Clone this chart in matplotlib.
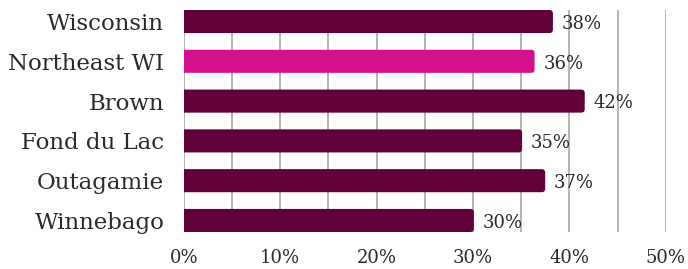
import matplotlib
matplotlib.use("Agg")
import matplotlib.pyplot as plt
from matplotlib.patches import FancyBboxPatch

categories = ["Wisconsin", "Northeast WI", "Brown", "Fond du Lac", "Outagamie", "Winnebago"]
values = [38.3, 36.4, 41.6, 35.1, 37.5, 30.1]
labels = ["38%", "36%", "42%", "35%", "37%", "30%"]
xticks = [0, 10, 20, 30, 40, 50]
xticklabels = ["0%", "10%", "20%", "30%", "40%", "50%"]
highlight = "Northeast WI"

dark = "#62003A"
pink = "#D4108C"
grid = "#A8A8A8"
txt = "#2a2a2a"
font = "DejaVu Serif"

W, H = 688, 269
fig = plt.figure(figsize=(W / 100, H / 100), dpi=100)
left, right = 183.7 / W, 665.7 / W
top, bottom = 1 - 10 / H, 1 - 232 / H
ax = fig.add_axes([left, bottom, right - left, top - bottom])

bh = 0.58
n = len(categories)
ax.set_xlim(0, 50)
ax.set_ylim(n - 1 + bh / 2, -bh / 2)

for x in range(0, 55, 5):
    ax.axvline(x, color=grid, lw=1.2, zorder=0)

ax_w_px = (right - left) * W
ax_h_px = (top - bottom) * H
xu = 50 / ax_w_px
yu = (n - 1 + bh) / ax_h_px
aspect = yu / xu
r = 3.5 * xu

for i, (c, v, lab) in enumerate(zip(categories, values, labels)):
    col = pink if c == highlight else dark
    p = FancyBboxPatch((-2, i - bh / 2), v + 2, bh,
                       boxstyle=f"round,pad=0,rounding_size={r}",
                       mutation_aspect=aspect, fc=col, ec="none", zorder=2,
                       clip_on=True)
    ax.add_patch(p)
    ax.text(v + 0.9, i + 0.06, lab, va="center", ha="left", fontsize=13,
            family=font, color=txt, zorder=3)

ax.set_yticks(range(n))
ax.set_yticklabels(categories, family=font, fontsize=16.5, color=txt)
ax.set_xticks(xticks)
ax.set_xticklabels(xticklabels, family=font, fontsize=13, color=txt)
ax.tick_params(axis="both", length=0)
ax.tick_params(axis="y", pad=14)
ax.tick_params(axis="x", pad=12)
for s in ax.spines.values():
    s.set_visible(False)

fig.savefig("out.png", dpi=100)
